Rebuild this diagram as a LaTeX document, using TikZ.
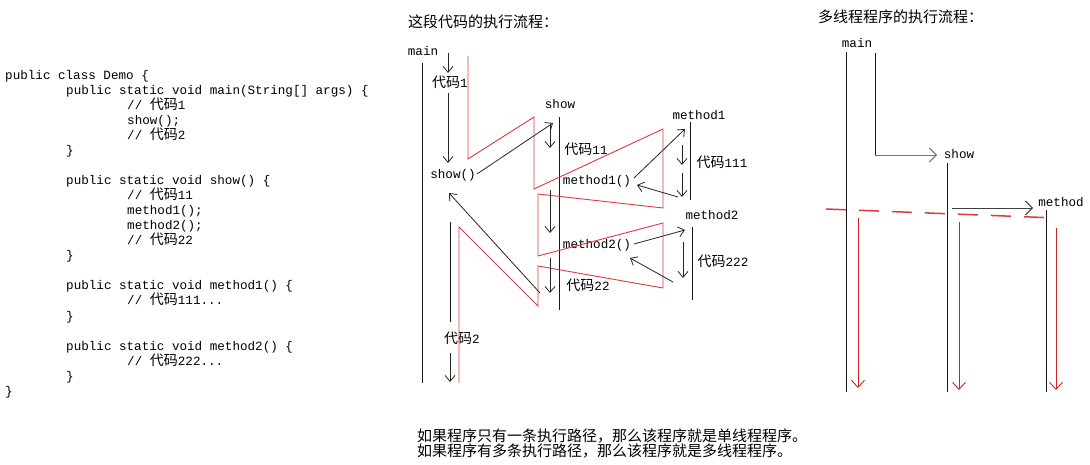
\documentclass[tikz,border=0pt]{standalone}
\usepackage{fontspec}
\newfontfamily\mono{Liberation Mono}
\newfontfamily\cjk{Noto Sans CJK SC}
\usetikzlibrary{arrows.meta}
\newcommand\zh[1]{{\cjk\fontsize{14}{15}\selectfont #1}}
\definecolor{redline}{RGB}{220,60,60}
\definecolor{darkred}{RGB}{200,35,35}
\begin{document}
\begin{tikzpicture}[x=1pt,y=-1pt,
  code/.style={anchor=west,inner sep=0pt,font=\mono\fontsize{12.6}{15}\selectfont,text height=10pt,text depth=2pt},
  lbl/.style={inner sep=0pt,font=\mono\fontsize{12.6}{15}\selectfont,text height=10pt,text depth=2pt},
  zlbl/.style={inner sep=0pt,font=\mono\fontsize{12.6}{15}\selectfont,text height=11pt,text depth=2pt},
  ttl/.style={anchor=west,inner sep=0pt,font=\cjk\fontsize{15}{15}\selectfont},
  life/.style={draw=black!90,line width=0.9pt},
  arr/.style={draw=black!85,line width=0.8pt,-{Straight Barb[length=6pt,width=10pt]}},
  garr/.style={draw=black!55,line width=0.9pt,-{Straight Barb[length=7pt,width=14pt]}},
  redp/.style={draw=redline,line width=0.9pt,line join=miter},
  rarr/.style={draw=darkred,line width=0.9pt,-{Straight Barb[length=7pt,width=13pt]}},
  rdash/.style={draw=redline,line width=1.5pt,dash pattern=on 20pt off 13pt}
]
\useasboundingbox[fill=white] (0,0) rectangle (1090,465);

% ---------------- code ----------------
\node[code] (c0) at (5,76) {public class Demo \{};
\node[code] (c1) at (66,91) {public static void main(String[] args) \{};
\node[code] (c2) at (127,106) {// \zh{代码}1};
\node[code] (c3) at (127,121) {show();};
\node[code] (c4) at (127,136) {// \zh{代码}2};
\node[code] (c5) at (66,151) {\}};
\node[code] (c7) at (66,181) {public static void show() \{};
\node[code] (c8) at (127,196) {// \zh{代码}11};
\node[code] (c9) at (127,211) {method1();};
\node[code] (c10) at (127,226) {method2();};
\node[code] (c11) at (127,241) {// \zh{代码}22};
\node[code] (c12) at (66,256) {\}};
\node[code] (c14) at (66,286) {public static void method1() \{};
\node[code] (c15) at (127,301) {// \zh{代码}111...};
\node[code] (c16) at (66,316) {\}};
\node[code] (c18) at (66,346) {public static void method2() \{};
\node[code] (c19) at (127,361) {// \zh{代码}222...};
\node[code] (c20) at (66,376) {\}};
\node[code] (c21) at (5,391) {\}};

% ---------------- middle diagram ----------------
\node[ttl] (t1) at (408,22) {这段代码的执行流程：};

\node[lbl] (lmain) at (423,52) {main};
\node[zlbl] (k1) at (450,83) {\zh{代码}1};
\node[lbl] (lshowc) at (453,175) {show()};
\node[lbl] (lshow) at (560,105) {show};
\node[zlbl] (k11) at (586,150) {\zh{代码}11};
\node[lbl] (lm1c) at (597,181) {method1()};
\node[lbl] (lm1) at (699,116) {method1};
\node[zlbl] (k111) at (722,163) {\zh{代码}111};
\node[lbl] (lm2) at (712,216) {method2};
\node[lbl] (lm2c) at (597,245) {method2()};
\node[zlbl] (k222) at (723,262) {\zh{代码}222};
\node[zlbl] (k22) at (588,286) {\zh{代码}22};
\node[zlbl] (k2) at (462,339) {\zh{代码}2};

% lifelines
\coordinate (Ma) at (422,63);  \coordinate (Mb) at (422,383);
\coordinate (Sa) at (559,117); \coordinate (Sb) at (559,310);
\coordinate (Aa) at (690,122); \coordinate (Ab) at (690,200);
\coordinate (Ba) at (692,227); \coordinate (Bb) at (692,300);
\draw[life] (Ma) -- (Mb);
\draw[life] (Sa) -- (Sb);
\draw[life] (Aa) -- (Ab);
\draw[life] (Ba) -- (Bb);

% red execution path
\coordinate (r1) at (468,56);  \coordinate (r2) at (468,159);
\coordinate (r3) at (534,117); \coordinate (r4) at (534,189);
\coordinate (r5) at (663,129); \coordinate (r6) at (663,208);
\coordinate (r7) at (538,194); \coordinate (r8) at (538,256);
\coordinate (r9) at (663,223); \coordinate (r10) at (663,288);
\coordinate (r11) at (538,266); \coordinate (r12) at (538,306);
\coordinate (r13) at (459,227); \coordinate (r14) at (459,383);
\draw[redp] (r1) -- (r2) -- (r3) -- (r4) -- (r5) -- (r6) -- (r7) -- (r8)
  -- (r9) -- (r10) -- (r11) -- (r12) -- (r13) -- (r14);

% black arrows
\coordinate (a1) at (448,53);  \coordinate (a2) at (448,73);
\coordinate (a3) at (448,93);  \coordinate (a4) at (448,163);
\coordinate (a5) at (477,174); \coordinate (a6) at (553,123);
\coordinate (a7) at (550,124); \coordinate (a8) at (550,148);
\coordinate (a9) at (634,178); \coordinate (a10) at (685,129);
\coordinate (a11) at (682,145); \coordinate (a12) at (682,165);
\coordinate (a13) at (682,173); \coordinate (a14) at (682,197);
\coordinate (a15) at (678,197); \coordinate (a16) at (637,185);
\coordinate (a17) at (550,190); \coordinate (a18) at (550,233);
\coordinate (a19) at (634,244); \coordinate (a20) at (685,230);
\coordinate (a21) at (683,242); \coordinate (a22) at (683,278);
\coordinate (a23) at (673,282); \coordinate (a24) at (630,258);
\coordinate (a25) at (550,258); \coordinate (a26) at (550,293);
\coordinate (a27) at (540,293); \coordinate (a28) at (449,193);
\coordinate (a29) at (450,222); \coordinate (a30) at (450,322);
\coordinate (a31) at (450,353); \coordinate (a32) at (450,382);
\draw[arr] (a1) -- (a2);
\draw[arr] (a3) -- (a4);
\draw[arr] (a5) -- (a6);
\draw[arr] (a7) -- (a8);
\draw[arr] (a9) -- (a10);
\draw[arr] (a11) -- (a12);
\draw[arr] (a13) -- (a14);
\draw[arr] (a15) -- (a16);
\draw[arr] (a17) -- (a18);
\draw[arr] (a19) -- (a20);
\draw[arr] (a21) -- (a22);
\draw[arr] (a23) -- (a24);
\draw[arr] (a25) -- (a26);
\draw[arr] (a27) -- (a28);
\draw[life,line width=0.8pt] (a29) -- (a30);
\draw[arr] (a31) -- (a32);

% ---------------- right diagram ----------------
\node[ttl] (t2) at (818,17) {多线程程序的执行流程：};
\node[lbl] (rmain) at (857,44) {main};
\node[lbl] (rshow) at (959,155) {show};
\node[lbl] (rmeth) at (1061,203) {method};

\coordinate (Pa) at (846,52);  \coordinate (Pb) at (846,392);
\coordinate (Qa) at (947,163); \coordinate (Qb) at (947,392);
\coordinate (Ra) at (1046,210); \coordinate (Rb) at (1046,392);
\draw[life] (Pa) -- (Pb);
\draw[life] (Qa) -- (Qb);
\draw[life] (Ra) -- (Rb);

\coordinate (g1) at (875,53); \coordinate (g2) at (875,155); \coordinate (g3) at (937,155);
\draw[life] (g1) -- (g2);
\draw[garr] (g2) -- (g3);
\coordinate (g4) at (952,208); \coordinate (g5) at (1033,208);
\draw[garr,draw=black!75] (g4) -- (g5);

\coordinate (d1) at (826,209); \coordinate (d2) at (1056,218);
\draw[rdash] (d1) -- (d2);

\coordinate (e1) at (858,218); \coordinate (e2) at (858,388);
\coordinate (e3) at (959,222); \coordinate (e4) at (959,390);
\coordinate (e5) at (1056,228); \coordinate (e6) at (1056,390);
\draw[rarr] (e1) -- (e2);
\draw[rarr] (e3) -- (e4);
\draw[rarr] (e5) -- (e6);

% ---------------- bottom text ----------------
\node[ttl] (b1) at (417,436) {如果程序只有一条执行路径，那么该程序就是单线程程序。};
\node[ttl] (b2) at (417,451) {如果程序有多条执行路径，那么该程序就是多线程程序。};
\end{tikzpicture}
\end{document}
